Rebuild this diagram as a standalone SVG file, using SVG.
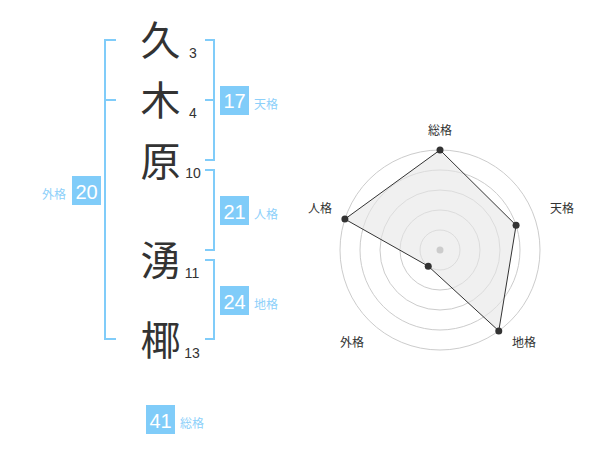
<svg xmlns="http://www.w3.org/2000/svg" width="600" height="470" viewBox="0 0 600 470">
<style>
.k{font-family:"Noto Sans CJK JP","Noto Sans",sans-serif;font-size:40px;fill:#333;text-anchor:middle}
.n{font-family:"Liberation Sans",Arial,sans-serif;font-size:14px;fill:#333;text-anchor:middle}
.box{fill:#80ccf9}
.bn{font-family:"Liberation Sans",Arial,sans-serif;font-size:20px;fill:#fff;text-anchor:middle}
.bl{font-family:"Noto Sans CJK JP",sans-serif;font-size:12px;fill:#8dd0fa}
.br{fill:none;stroke:#80ccf9;stroke-width:2}
.ring{fill:none;stroke:#cccccc;stroke-width:1}
.rl{font-family:"Noto Sans CJK JP",sans-serif;font-size:12px;fill:#333}
.dot{fill:#333}
</style>
<rect width="600" height="470" fill="#fff"/>
<g id="connectors">
<path class="br" d="M116,40 H105 V339 H116 M105,100 H116"/>
<path class="br" d="M205,40 H214 V160 H205 M205,100 H214"/>
<path class="br" d="M205,170 H214 V250 H205"/>
<path class="br" d="M205,260 H214 V339 H205"/>
</g>
<g id="char1"><text class="k" x="160.5" y="54.5">久</text><text class="n" x="193" y="57.5">3</text></g>
<g id="char2"><text class="k" x="160.5" y="115">木</text><text class="n" x="193" y="117.5">4</text></g>
<g id="char3"><text class="k" x="160.5" y="175.5">原</text><text class="n" x="193" y="177.5">10</text></g>
<g id="char4"><text class="k" x="160.5" y="275">湧</text><text class="n" x="192" y="278">11</text></g>
<g id="char5"><text class="k" x="160.5" y="355">椰</text><text class="n" x="192" y="357.5">13</text></g>
<g id="tenkaku"><rect class="box" x="220" y="86" width="29" height="29"/><text class="bn" x="234.5" y="108">17</text><text class="bl" x="254" y="109">天格</text></g>
<g id="gaikaku"><rect class="box" x="72" y="176" width="29" height="29"/><text class="bn" x="86.5" y="198.5">20</text><text class="bl" x="66" y="199" text-anchor="end">外格</text></g>
<g id="jinkaku"><rect class="box" x="220" y="196" width="29" height="29"/><text class="bn" x="234.5" y="218.5">21</text><text class="bl" x="254" y="219">人格</text></g>
<g id="chikaku"><rect class="box" x="220" y="286" width="29" height="29"/><text class="bn" x="234.5" y="308.5">24</text><text class="bl" x="254" y="309">地格</text></g>
<g id="soukaku"><rect class="box" x="146" y="405" width="29" height="29"/><text class="bn" x="160.5" y="427.5">41</text><text class="bl" x="180" y="428">総格</text></g>
<g id="radar">
<circle class="ring" cx="440" cy="250" r="20"/>
<circle class="ring" cx="440" cy="250" r="40"/>
<circle class="ring" cx="440" cy="250" r="60"/>
<circle class="ring" cx="440" cy="250" r="80"/>
<circle class="ring" cx="440" cy="250" r="100"/>
<polygon points="440,150 516.08,225.28 498.78,330.9 428.24,266.18 344.89,219.1" fill="#e6e6e6" fill-opacity="0.6" stroke="#333" stroke-width="1"/>
<circle cx="440" cy="250" r="3.5" fill="#cccccc"/>
<circle class="dot" cx="440" cy="150" r="3.5"/>
<circle class="dot" cx="516.08" cy="225.28" r="3.5"/>
<circle class="dot" cx="498.78" cy="330.9" r="3.5"/>
<circle class="dot" cx="428.24" cy="266.18" r="3.5"/>
<circle class="dot" cx="344.89" cy="219.1" r="3.5"/>
<text class="rl" x="440" y="135" text-anchor="middle">総格</text>
<text class="rl" x="550" y="213">天格</text>
<text class="rl" x="332" y="213" text-anchor="end">人格</text>
<text class="rl" x="364" y="347" text-anchor="end">外格</text>
<text class="rl" x="512" y="347">地格</text>
</g>
</svg>
